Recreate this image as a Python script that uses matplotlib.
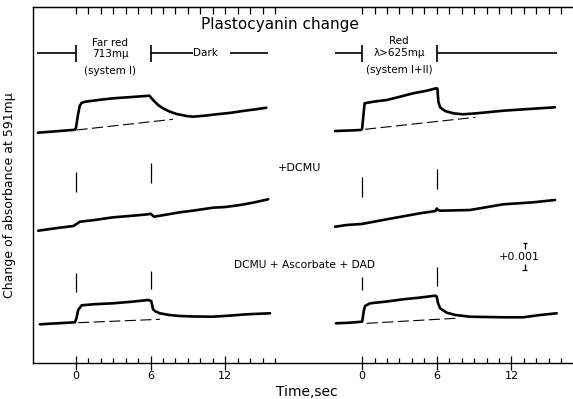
import matplotlib.pyplot as plt
import numpy as np

# time axis of each panel (s); right panel is drawn shifted along x
panel_shift = 23.0
major_t = [0, 6, 12]
minor_t = list(range(0, 17))

# traces (time in s, signal in arbitrary units)
# top row: control
far_red_t = [-3.05, -1.5, -0.1, 0.0, 0.15, 0.3, 0.45, 0.7, 2.0, 3.0, 4.5, 5.9,
             6.2, 6.6, 7.0, 7.55, 8.1, 8.9, 9.4, 10.5, 11.3, 12.5, 13.4, 14.5, 15.3]
far_red_y = [230.3, 231.8, 233.2, 235, 247, 257, 260, 261.2, 263.3, 264.7, 266, 267.3,
             263, 258, 254.7, 251.3, 249, 247, 246.3, 247.5, 248.7, 250.3, 252, 253.8, 255.3]
red_t = [-2.17, -1.0, -0.1, 0.0, 0.1, 0.2, 0.91, 1.98, 3.05, 4.1, 5.2, 5.95, 6.05,
         6.13, 6.27, 6.67, 7.33, 8.1, 9.2, 11.35, 13.76, 15.5]
red_y = [232, 232.5, 233, 234, 247, 259.7, 261.3, 263, 266.3, 269.7, 272.3, 274.7, 274.5,
         261.3, 255.7, 252, 249.7, 248.7, 249.7, 252.3, 254.3, 255.7]
far_red_base = ([0.05, 7.8], [233, 243.7])
red_base = ([0.24, 9.1], [233.7, 245.7])

# middle row: +DCMU
dcmu_fr_t = [-3.03, -1.5, -0.2, 0.32, 1.5, 3.0, 4.5, 5.8, 6.0, 6.27, 7.0, 8.35,
             9.5, 11.0, 12.0, 13.2, 14.3, 15.45]
dcmu_fr_y = [132.3, 135, 137, 141.3, 143, 145.7, 147.2, 148.7, 149.3, 146.3, 147.8, 150.7,
             152.5, 155.3, 156, 158, 160.5, 163.7]
dcmu_red_t = [-2.17, -1.23, -0.03, 1.98, 4.66, 5.9, 6.0, 6.1, 6.32, 8.67, 11.35, 13.76, 15.5]
dcmu_red_y = [136.3, 138, 139, 143.7, 149.7, 152, 154.5, 153, 152.3, 153, 158.7, 160.7, 163]

# bottom row: DCMU + ascorbate + DAD
dad_fr_t = [-2.9, -1.5, -0.08, 0.05, 0.18, 0.46, 1.5, 3.0, 4.5, 5.8, 6.05, 6.2, 6.4,
            6.75, 7.5, 8.35, 9.5, 11.0, 12.5, 13.7, 15.6]
dad_fr_y = [38.7, 39.7, 40.7, 45, 53, 57.7, 58.8, 59.7, 61.3, 63, 62, 53.7, 51.5,
            49.7, 48, 47, 46.5, 46.3, 47.5, 48.7, 49.7]
dad_red_t = [-2.1, -1.0, 0.0, 0.05, 0.15, 0.24, 0.64, 2.0, 3.3, 4.5, 5.86, 6.0, 6.1,
             6.27, 6.8, 7.5, 8.67, 10.0, 11.35, 12.95, 14.3, 15.64]
dad_red_y = [39.7, 40.3, 41.3, 45, 53, 57, 59.7, 61.5, 63.7, 65.2, 67.3, 66.5, 60,
             54.7, 50.3, 48, 46.3, 46, 45.7, 45.7, 48, 49.7]
dad_fr_base = ([0.18, 6.75], [40.3, 43.7])
dad_red_base = ([0.37, 7.5], [39.7, 44.7])

# light on / off marks: (time, y from, y to)
marks_dcmu_fr = [(0, 171.3, 191.3), (6, 180.3, 200.3)]
marks_dcmu_red = [(0, 166.3, 186.3), (6, 174, 193.7)]
marks_dad_fr = [(0, 71.3, 89.7), (6, 73.7, 92)]
marks_dad_red = [(0, 73, 86.3), (6, 77, 96.3)]

fig = plt.figure(figsize=(5.73, 3.99), dpi=100)
ax = fig.add_axes([32.5 / 573, 36 / 399, 1 - 32.5 / 573, 356 / 399])
ax.set_xlim(-3.49, 39.95)
ax.set_ylim(0, 356)

trace_kw = dict(color='black', lw=1.9, solid_capstyle='round', solid_joinstyle='round')
base_kw = dict(color='black', lw=0.8, dashes=(10, 4))

for t, y, shift in [(far_red_t, far_red_y, 0), (red_t, red_y, panel_shift),
                    (dcmu_fr_t, dcmu_fr_y, 0), (dcmu_red_t, dcmu_red_y, panel_shift),
                    (dad_fr_t, dad_fr_y, 0), (dad_red_t, dad_red_y, panel_shift)]:
    ax.plot(np.array(t) + shift, y, **trace_kw)

for (bt, by), shift in [(far_red_base, 0), (red_base, panel_shift),
                        (dad_fr_base, 0), (dad_red_base, panel_shift)]:
    ax.plot(np.array(bt) + shift, by, **base_kw)

for marks, shift in [(marks_dcmu_fr, 0), (marks_dcmu_red, panel_shift),
                     (marks_dad_fr, 0), (marks_dad_red, panel_shift)]:
    for t, y0, y1 in marks:
        ax.vlines(t + shift, y0, y1, color='black', lw=0.9)

# illumination bars along the top
bar_y = 310
line_kw = dict(color='black', lw=1.2)
ax.hlines(bar_y, -3.16, 0, **line_kw)
ax.hlines(bar_y, 6, 9.4, **line_kw)
ax.hlines(bar_y, 12.37, 15.45, **line_kw)
ax.hlines(bar_y, panel_shift - 2.17, panel_shift, **line_kw)
ax.hlines(bar_y, panel_shift + 6, panel_shift + 15.64, **line_kw)
for t in [0, 6, panel_shift, panel_shift + 6]:
    ax.vlines(t, bar_y - 9, bar_y + 8, **line_kw)

lab = dict(ha='center', va='center', fontsize=7.5)
ax.text(2.75, 320.5, 'Far red', **lab)
ax.text(2.75, 309, '713mμ', **lab)
ax.text(2.75, 292.5, '(system I)', **lab)
ax.text(10.44, 310, 'Dark', **lab)
ax.text(panel_shift + 2.97, 321.5, 'Red', **lab)
ax.text(panel_shift + 2.97, 309.5, 'λ>625mμ', **lab)
ax.text(panel_shift + 2.97, 293, '(system I+II)', **lab)

ax.text(16.4, 338, 'Plastocyanin change', ha='center', va='center', fontsize=11)
ax.text(18.0, 195, '+DCMU', ha='center', va='center', fontsize=8)
ax.text(18.4, 98, 'DCMU + Ascorbate + DAD', ha='center', va='center', fontsize=7.7)

# 0.001 absorbance scale mark
ax.text(35.66, 106, '+0.001', ha='center', va='center', fontsize=8)
ax.vlines(36.06, 114, 120, color='black', lw=0.9)
ax.hlines(120, 35.9, 36.22, color='black', lw=0.9)
ax.vlines(36.06, 93, 99, color='black', lw=0.9)
ax.hlines(93, 35.85, 36.27, color='black', lw=0.9)

# axes styling
ax.spines['right'].set_visible(False)
for s in ['left', 'bottom', 'top']:
    ax.spines[s].set_linewidth(1.0)
ax.set_yticks([])
ax.set_xticks(major_t + [m + panel_shift for m in major_t],
              labels=[str(m) for m in major_t] * 2)
ax.set_xticks(minor_t + [m + panel_shift for m in minor_t], minor=True)
ax.tick_params(axis='x', which='major', direction='inout', length=10, width=0.9,
               labelsize=8, pad=1)
ax.tick_params(axis='x', which='minor', direction='in', length=3.5, width=0.9)

top = ax.secondary_xaxis('top')
top.set_xticks(minor_t + [m + panel_shift for m in minor_t], labels=[])
top.tick_params(axis='x', which='major', direction='in', length=5, width=0.9)
top.tick_params(axis='x', which='minor', length=0)

ax.set_xlabel('Time,sec', fontsize=10)
ax.xaxis.set_label_coords(0.508, -0.062)
ax.set_ylabel('Change of absorbance at 591mμ', fontsize=9)
ax.yaxis.set_label_coords(-0.03, 0.47)

fig.savefig('out.png', dpi=100)
plt.close(fig)
